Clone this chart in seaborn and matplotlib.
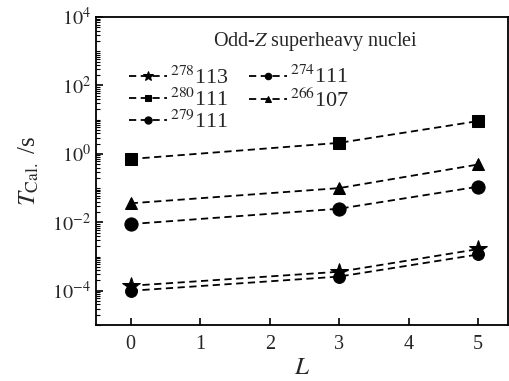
#!/usr/bin/env python3
import numpy as np
import matplotlib
matplotlib.use('Agg')
import matplotlib.pyplot as plt
import matplotlib.ticker as mticker
import seaborn as sns
import pandas as pd

# ---------------------------------------------------------------------------- #
# DATA                                                   #
# ---------------------------------------------------------------------------- #
L_values = [0, 3, 5]
t_278_113 = [1.4e-4, 3.6e-4, 1.65e-3]
t_280_111 = [0.71, 2.1, 9.1]
t_279_111 = [8.9e-3, 2.5e-2, 0.11]
t_274_111 = [1.0e-4, 2.6e-4, 1.15e-3]
t_266_107 = [3.6e-2, 0.10, 0.49]

labels = [r'$^{278}$113', r'$^{280}$111', r'$^{279}$111', r'$^{274}$111', r'$^{266}$107']
series = [t_278_113, t_280_111, t_279_111, t_274_111, t_266_107]
markers = ['*', 's', 'o', 'o', '^']
msizes = [13, 8.5, 9.5, 8.5, 8]

sns.set_theme(style='ticks')
plt.rcParams['font.family'] = ['Liberation Serif', 'DejaVu Serif']
plt.rcParams['mathtext.fontset'] = 'stix'

fig = plt.figure(figsize=(5.09, 3.81), dpi=100)
ax = fig.add_axes([96/509, 1-325/381, 412/509, 308/381])

for lab, vals, mk, ms in zip(labels, series, markers, msizes):
    df = pd.DataFrame({'L': L_values, 'T': vals})
    sns.lineplot(data=df, x='L', y='T', ax=ax, color='black', marker=mk,
                 markersize=ms, linestyle=(0, (4, 2.5)), linewidth=1.3,
                 markeredgecolor='black', label=lab)

ax.set_yscale('log')
ax.set_ylim(1e-5, 1e4)
ax.set_xlim(-0.5, 5.43)
ax.yaxis.set_major_locator(mticker.FixedLocator([1e-4, 1e-2, 1e0, 1e2, 1e4]))
ax.yaxis.set_major_formatter(mticker.FixedFormatter(
    [r'$10^{-4}$', r'$10^{-2}$', r'$10^{0}$', r'$10^{2}$', r'$10^{4}$']))
ax.yaxis.set_minor_locator(mticker.LogLocator(base=10, subs=np.arange(1, 10), numticks=30))
ax.yaxis.set_minor_formatter(mticker.NullFormatter())
ax.set_xticks([0, 1, 2, 3, 4, 5])
ax.tick_params(direction='in', which='major', length=5, width=1.2, labelsize=14.5, color='black')
ax.tick_params(direction='in', which='minor', length=3, width=0.8, color='black')
ax.tick_params(axis='x', pad=7)
for sp in ax.spines.values():
    sp.set_linewidth(1.3)
    sp.set_color('black')

ax.set_xlabel(r'$L$', fontsize=18, labelpad=2)
ax.set_ylabel(r'$T_{\rm Cal.}$ /s', fontsize=18, labelpad=8)

ax.text(0.534, 0.92, 'Odd-$Z$ superheavy nuclei', transform=ax.transAxes,
        ha='center', va='center', fontsize=14.5)

leg = ax.legend(ncol=2, loc='upper left', bbox_to_anchor=(0.058, 0.87), frameon=False,
                fontsize=16, markerscale=0.55, handlelength=1.7, handletextpad=0.15,
                labelspacing=0.0, columnspacing=0.9, borderaxespad=0)

plt.savefig('out.png', dpi=100)
